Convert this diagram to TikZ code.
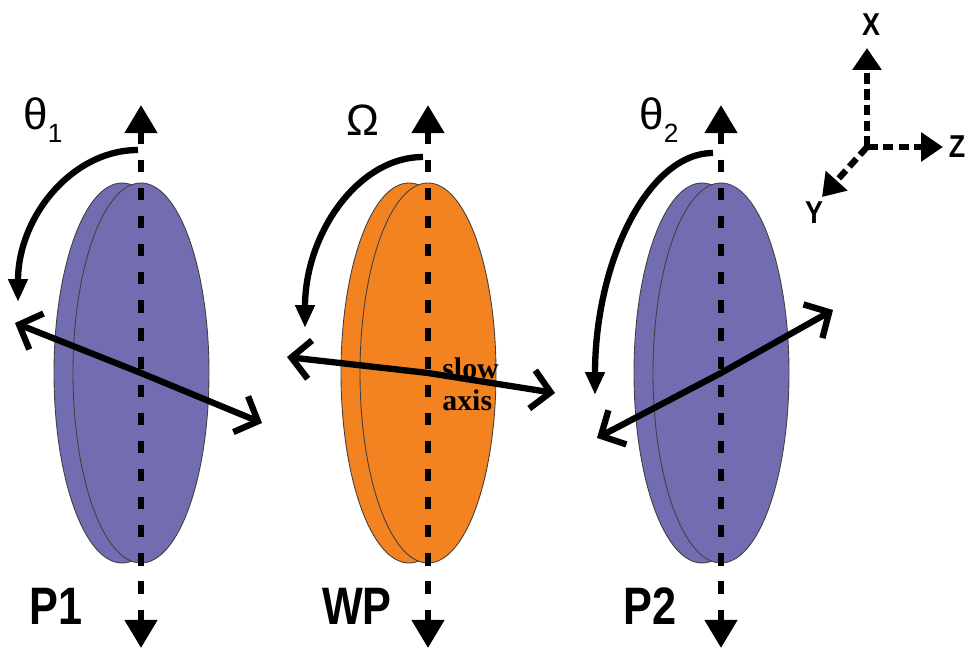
\documentclass[tikz,border=0pt]{standalone}
\usepackage{fontspec}
\setmainfont{Liberation Sans}
\newfontfamily\slowfont{Liberation Serif}
\usetikzlibrary{arrows.meta,positioning}

\definecolor{polblue}{RGB}{114,109,176}
\definecolor{wporange}{RGB}{243,130,32}

\begin{document}
\begin{tikzpicture}[x=0.02cm,y=-0.02cm,
    plate/.style={draw=black!75,line width=0.5pt},
    beam/.style={line width=3.4pt,dash pattern=on 7pt off 9pt,
      {Triangle[width=18pt,length=16pt]}-{Triangle[width=18pt,length=16pt]}},
    turn/.style={line width=3.6pt,-{Triangle[width=10.5pt,length=13pt]}},
    polaxis/.style={line width=3.6pt,
      {Straight Barb[length=10.6pt,width=22pt]}-{Straight Barb[length=10.6pt,width=22pt]}},
    frame/.style={line width=3.6pt,dash pattern=on 6pt off 3pt,
      -{Triangle[width=16pt,length=12.5pt]}},
    elem/.style={font=\bfseries\fontsize{30}{30}\selectfont,xscale=0.82},
    coordlab/.style={font=\bfseries\fontsize{18}{18}\selectfont,xscale=0.85},
    rot/.style={font=\fontsize{25}{25}\selectfont,inner sep=0pt}]

  \useasboundingbox (0,0) rectangle (967,651);

  % the three plates (back face, then front face)
  \foreach \cx/\col in {141/polblue,428/wporange,721/polblue}{
    \filldraw[fill=\col,plate] (\cx-19,373) ellipse [x radius=68,y radius=190];
    \filldraw[fill=\col,plate] (\cx,373) ellipse [x radius=68,y radius=190];
  }

  \coordinate (p1) at (141,373);
  \coordinate (wp) at (428,373);
  \coordinate (p2) at (721,373);

  % beam axes
  \draw[beam] (141,105) -- (141,648);
  \draw[beam] (428,105) -- (428,648);
  \draw[beam] (721,105) -- (721,648);

  % transmission / slow axes
  \draw[polaxis] (15,323) -- (p1) -- (262,423);
  \draw[polaxis] (287,357) -- (wp) -- (555,393);
  \draw[polaxis] (597,438) -- (p2) -- (833,310);

  % rotation arrows
  \draw[turn] (138,150) .. controls (72,150) and (18,217) .. (18,302);
  \draw[turn] (423,157) .. controls (358,157) and (305,234) .. (305,328);
  \draw[turn] (713,153) .. controls (648,153) and (595,262) .. (595,395);

  \node[rot] (th1) at (43,120) {θ\raisebox{-0.3em}{\fontsize{15}{15}\selectfont 1}};
  \node[rot] (om)  at (363,120) {Ω};
  \node[rot] (th2) at (659,120) {θ\raisebox{-0.3em}{\fontsize{15}{15}\selectfont 2}};

  \node[anchor=west,align=left,inner sep=0pt,
    font=\slowfont\bfseries\fontsize{17}{18}\selectfont] (slow) at (442,384) {slow\\axis};

  % element names
  \node[elem] (p1lab) at (56,606) {P1};
  \node[elem] (wplab) at (357,606) {WP};
  \node[elem] (p2lab) at (650,606) {P2};

  % lab frame
  \coordinate (o) at (867,147);
  \coordinate (xt) at (867,48);
  \coordinate (zt) at (943,147);
  \coordinate (yt) at (822,197);
  \draw[frame] (o) -- (xt);
  \draw[frame] (o) -- (zt);
  \draw[frame] (o) -- (yt);
  \node[coordlab] (xlab) at (871,25) {X};
  \node[coordlab] (zlab) at (957,147) {Z};
  \node[coordlab] (ylab) at (814,213) {Y};
\end{tikzpicture}
\end{document}
